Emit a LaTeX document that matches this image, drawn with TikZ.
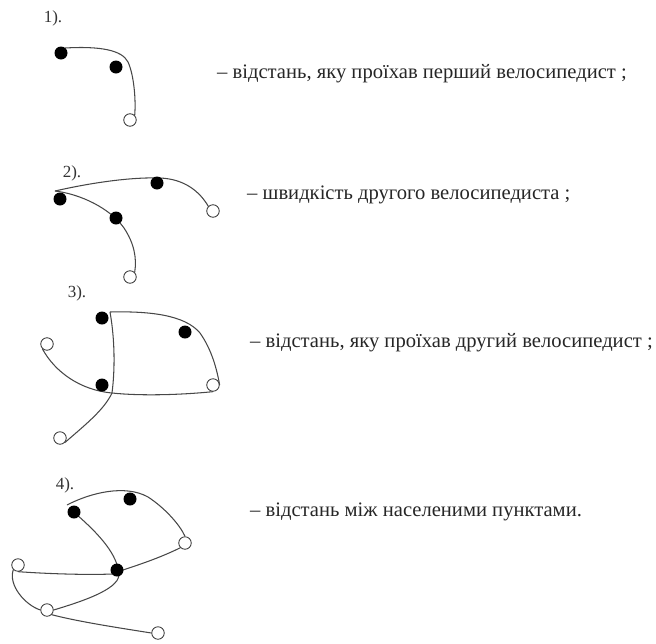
\documentclass[tikz,border=0pt]{standalone}
\usepackage{fontspec}
\setmainfont{Liberation Serif}
\begin{document}
\begin{tikzpicture}[x=1pt,y=-1pt,
  dot/.style={circle,fill=black,inner sep=0pt,minimum size=13pt},
  ring/.style={circle,draw=black!80,fill=white,line width=0.8pt,inner sep=0pt,minimum size=12.5pt},
  path/.style={draw=black!72,line width=1.05pt},
  tag/.style={font=\fontsize{17}{19}\selectfont,text=black!80},
  caption/.style={anchor=west,font=\fontsize{20.6}{23}\selectfont,text=black!85,inner sep=0pt}]
\useasboundingbox (0,0) rectangle (656,643);

% 1) first cyclist's distance
\node[tag] (l1) at (53,18) {1).};
\coordinate (s1) at (65,48);
\node[ring] (c1) at (130,120) {};
\draw[path] (s1) .. controls (100,46) and (122,50) .. (128,62)
  .. controls (134,75) and (136,100) .. (c1.north east);
\node[dot] (a1) at (61,53) {};
\node[dot] (b1) at (116,67) {};
\node[caption] (t1) at (217,74) {– відстань, яку проїхав перший велосипедист ;};

% 2) second cyclist's speed
\node[tag] (l2) at (72,173) {2).};
\coordinate (s2) at (55,191);
\node[ring] (d2) at (213,211) {};
\node[ring] (e2) at (130,277) {};
\draw[path] (s2) .. controls (90,183) and (130,177) .. (160,178)
  .. controls (185,179) and (200,192) .. (d2.north west);
\draw[path] (s2) .. controls (80,194) and (110,208) .. (124,228)
  .. controls (134,243) and (137,258) .. (e2.north east);
\node[dot] (a2) at (60,199) {};
\node[dot] (b2) at (157,183) {};
\node[dot] (c2) at (116,218) {};
\node[caption] (t2) at (247,195) {– швидкість другого велосипедиста ;};

% 3) second cyclist's distance
\node[tag] (l3) at (77,293) {3).};
\coordinate (t3) at (110,312);
\coordinate (m3) at (112,393);
\node[ring] (d3) at (47,344) {};
\node[ring] (e3) at (213,385) {};
\node[ring] (f3) at (60,438) {};
\draw[path] (t3) .. controls (150,311) and (185,315) .. (200,333)
  .. controls (212,350) and (217,370) .. (e3.east);
\draw[path] (e3.south) .. controls (180,395) and (140,396) .. (m3);
\draw[path] (t3) .. controls (115,340) and (115,370) .. (m3);
\draw[path] (d3.south west) .. controls (55,372) and (80,390) .. (m3);
\draw[path] (m3) .. controls (104,410) and (85,425) .. (f3.south east);
\node[dot] (a3) at (102,318) {};
\node[dot] (b3) at (185,332) {};
\node[dot] (c3) at (102,385) {};
\node[caption] (t3txt) at (250,343) {– відстань, яку проїхав другий велосипедист ;};

% 4) distance between the settlements
\node[tag] (l4) at (65,485) {4).};
\coordinate (s4) at (67,505);
\node[ring] (d4) at (185,543) {};
\node[ring] (e4) at (18,565) {};
\node[ring] (f4) at (47,610) {};
\node[ring] (g4) at (158,633) {};
\draw[path] (s4) .. controls (90,493) and (125,484) .. (148,497)
  .. controls (165,508) and (180,525) .. (d4.north);
\draw[path] (d4.south west) .. controls (160,558) and (135,566) .. (120,571);
\draw[path] (76,514) .. controls (100,535) and (118,555) .. (119,575)
  .. controls (118,590) and (80,602) .. (f4.east);
\draw[path] (e4.south) .. controls (50,574) and (90,575) .. (112,574);
\draw[path] (e4.south west) .. controls (8,585) and (25,605) .. (f4.west);
\draw[path] (f4.south east) .. controls (80,622) and (120,628) .. (g4.west);
\node[dot] (a4) at (74,512) {};
\node[dot] (b4) at (130,499) {};
\node[dot] (c4) at (117,570) {};
\node[caption] (t4) at (250,512) {– відстань між населеними пунктами.};
\end{tikzpicture}
\end{document}
